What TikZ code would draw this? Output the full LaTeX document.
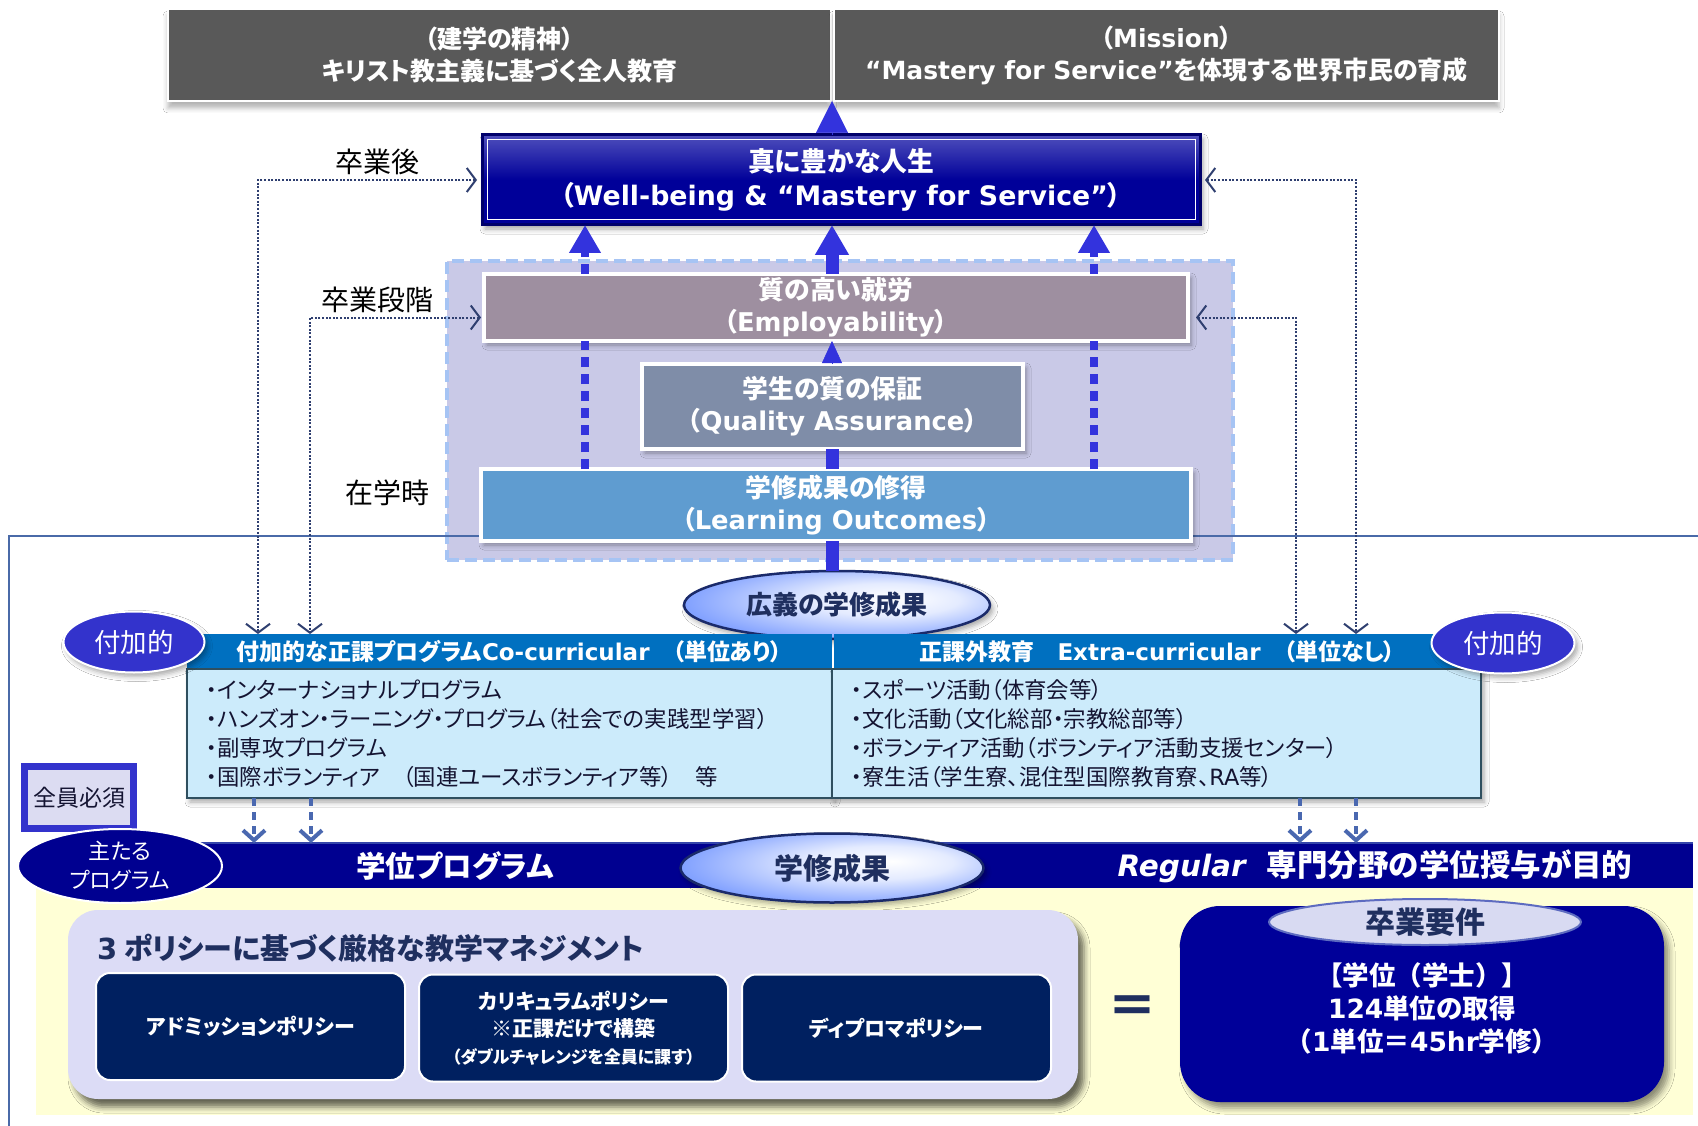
\documentclass[tikz,border=0pt]{standalone}
\usepackage{fontspec}
\setmainfont{Noto Sans CJK JP}[RawFeature=+palt]
\newfontfamily\jpfw{Noto Sans CJK JP}
\newfontfamily\lat{DejaVu Sans}
\usetikzlibrary{arrows.meta,shapes.geometric,shadows.blur,calc}
\newcommand\fsz[2]{\fontsize{#1}{#2}\selectfont}
\definecolor{cGray}{HTML}{595959}
\definecolor{cNavy}{HTML}{000099}
\definecolor{cWellMid}{HTML}{5858C0}
\definecolor{cWellTop}{HTML}{E4E4FA}
\definecolor{cArrow}{HTML}{3333DD}
\definecolor{cRegion}{HTML}{C9C9E7}
\definecolor{cRegBorder}{HTML}{A6C4F4}
\definecolor{cEmp}{HTML}{9E8FA0}
\definecolor{cQA}{HTML}{7F8DA8}
\definecolor{cLO}{HTML}{5F9CD0}
\definecolor{cDot}{HTML}{2F3F70}
\definecolor{cLine}{HTML}{4A6AA8}
\definecolor{cHdr}{HTML}{0070C0}
\definecolor{cBody}{HTML}{CCEBFB}
\definecolor{cBodyLine}{HTML}{2F4F5F}
\definecolor{cBodyText}{HTML}{141432}
\definecolor{cPurple}{HTML}{3333CC}
\definecolor{cMust}{HTML}{DCDCF2}
\definecolor{cBar}{HTML}{000090}
\definecolor{cBarLine}{HTML}{3344AA}
\definecolor{cYellow}{HTML}{FFFFD6}
\definecolor{cPanel}{HTML}{DCDCF6}
\definecolor{cPol}{HTML}{002060}
\definecolor{cTitle}{HTML}{1F2F5F}
\definecolor{cDown}{HTML}{4A68B0}
\definecolor{cReqFill}{HTML}{D8DAF2}
\definecolor{cReqLine}{HTML}{5D6BC0}
\definecolor{cEllBlue}{HTML}{3F6FFF}
\definecolor{cEllLight}{HTML}{E4EBFF}
\definecolor{cEllLine}{HTML}{1A2A6A}
\pgfdeclareverticalshading{wellshade}{100bp}{color(0bp)=(cNavy); color(50bp)=(cNavy); color(78bp)=(cWellMid); color(100bp)=(cWellTop)}
\pgfdeclareradialshading{ellshade}{\pgfpoint{10bp}{5bp}}{color(0bp)=(white); color(12bp)=(cEllLight); color(42bp)=(cEllBlue); color(60bp)=(cEllBlue)}
\begin{document}
\begin{tikzpicture}[x=1pt,y=-1pt,
  box/.style={rectangle,inner sep=0pt,outer sep=0pt,align=center},
  ell/.style={ellipse,inner sep=0pt,outer sep=0pt,align=center},
  shd/.style={blur shadow={shadow xshift=3pt,shadow yshift=-4pt,shadow opacity=35,shadow blur radius=5pt}},
  graybox/.style={box,fill=cGray,draw=white,line width=1.5pt,minimum height=92pt,text=white,font=\fsz{25}{32}\bfseries,
     blur shadow={shadow xshift=0pt,shadow yshift=-7pt,shadow opacity=30,shadow blur radius=5pt}},
  inbox/.style={box,draw=white,line width=4pt,text=white,font=\fsz{25.8}{32}\bfseries},
  label/.style={font=\fsz{28}{28},text=black,inner sep=0pt},
  shaft/.style={draw=cArrow,line width=13pt},
  tiponly/.style={draw=cArrow,line width=0.5pt},
  sdash/.style={draw=cArrow,line width=8pt,dash pattern=on 10pt off 7pt},
  dotc/.style={draw=cDot,line width=2pt,dash pattern=on 2pt off 1.6pt,
     {Straight Barb[length=9pt,width=24pt]}-{Straight Barb[length=9pt,width=24pt]}},
  hdr/.style={box,fill=cHdr,text=white,font=\fsz{23}{26}\bfseries,minimum height=35pt},
  body/.style={box,fill=cBody,draw=cBodyLine,line width=1.5pt,minimum height=129pt,inner xsep=19pt,align=left,
     font=\fsz{22.4}{29},text=cBodyText,shd},
  pol/.style={box,rounded corners=14pt,fill=cPol,draw=white,line width=2pt,text=white,font=\fsz{21}{27}\bfseries,
     minimum width=309pt,minimum height=107pt},
  downarr/.style={draw=cDown,line width=4.5pt,dash pattern=on 8pt off 6pt,-{Straight Barb[length=10pt,width=22pt,line width=4pt]}}
]
\useasboundingbox (0,0) rectangle (1698,1126);
\fill[white] (0,0) rectangle (1698,1126);

% top boxes
\node[graybox,minimum width=663pt] (gL) at (499.5,55) {（建学の精神）\\キリスト教主義に基づく全人教育};
\node[graybox,minimum width=665pt] (gR) at (1166.5,55) {（{\lat Mission}）\\{\lat “Mastery for Service”}を体現する世界市民の育成};

% well-being box
\node[box,shading=wellshade,draw=cNavy!70!black,line width=3pt,minimum width=718pt,minimum height=90pt,
      text=white,font=\fsz{26.8}{34}\bfseries,shd] (well) at (841,180)
      {真に豊かな人生\\（{\lat Well-being \& “Mastery for Service”}）};
\draw[white,line width=1pt] ($(well.south west)+(5,-5)$) rectangle ($(well.north east)+(-5,5)$);

% labels
\node[label] (lbA) at (377,162) {卒業後};
\node[label] (lbB) at (377,300) {卒業段階};
\node[label] (lbC) at (387,493) {在学時};

% region
\node[box,fill=cRegion,draw=cRegBorder,line width=4pt,dash pattern=on 12pt off 6pt,minimum width=786pt,minimum height=299pt] (reg) at (840,410.5) {};
\draw[cLine,line width=1.5pt] (9,1126) -- (9,536) -- (1698,536);

\node[inbox,fill=cEmp,minimum width=704pt,minimum height=67pt,shd] (emp) at (836,307.5) {質の高い就労\\（{\lat Employability}）};
\node[inbox,fill=cQA,minimum width=381pt,minimum height=85pt,shd] (QA) at (832.5,406.5) {学生の質の保証\\（{\lat Quality Assurance}）};
\node[inbox,fill=cLO,minimum width=710pt,minimum height=72pt,shd] (LO) at (836,505) {学修成果の修得\\（{\lat Learning Outcomes}）};

% broad learning outcomes ellipse
\node[ell,shading=ellshade,draw=cEllLine,line width=2.5pt,minimum width=306pt,minimum height=68pt,
      font=\fsz{26}{26}\bfseries,text=cTitle,shd] (wide) at (837,605) {広義の学修成果};

% central arrows
\coordinate (spine) at (832,0);
\coordinate (sL) at (585,0);
\coordinate (sR) at (1094,0);
\draw[shaft] (wide.north -| spine) -- (LO.south -| spine);
\draw[shaft] (LO.north -| spine) -- (QA.south -| spine);
\draw[tiponly,-{Triangle[length=22pt,width=20pt]}] (QA.north -| spine) -- (emp.south -| spine);
\draw[shaft,-{Triangle[length=30pt,width=32pt]}] (emp.north -| spine) -- (well.south -| spine);
\draw[tiponly,-{Triangle[length=32pt,width=32pt]}] (well.north -| spine) -- (gL.south -| spine);
\draw[sdash] (LO.north -| sL) -- (emp.south -| sL);
\draw[sdash] (LO.north -| sR) -- (emp.south -| sR);
\draw[sdash,-{Triangle[length=28pt,width=30pt]}] (emp.north -| sL) -- (well.south -| sL);
\draw[sdash,-{Triangle[length=28pt,width=30pt]}] (emp.north -| sR) -- (well.south -| sR);

% headers and bodies
\node[hdr,minimum width=645pt] (coH) at (509.5,651.5) {付加的な正課プログラム{\lat Co-curricular}　（単位あり）};
\node[hdr,minimum width=647pt] (exH) at (1157.5,651.5) {正課外教育　{\lat Extra-curricular}　（単位なし）};
\node[body,text width=607pt] (coB) at (509.5,733.5) {・インターナショナルプログラム\\・ハンズオン・ラーニング・プログラム（社会での実践型学習）\\・副専攻プログラム\\・国際ボランティア　（国連ユースボランティア等）　等};
\node[body,text width=611pt] (exB) at (1156.5,733.5) {・スポーツ活動（体育会等）\\・文化活動（文化総部・宗教総部等）\\・ボランティア活動（ボランティア活動支援センター）\\・寮生活（学生寮、混住型国際教育寮、{\lat RA}等）};

% dotted connectors
\coordinate (xA) at (258,0);
\coordinate (xB) at (310,0);
\coordinate (xC) at (1296,0);
\coordinate (xD) at (1356,0);
\draw[dotc,shorten <=5pt] (well.west) -| (coH.north -| xA);
\draw[dotc,shorten <=3pt] ([yshift=-10pt]emp.west) -| (coH.north -| xB);
\draw[dotc,shorten <=5pt] (well.east) -| (exH.north -| xD);
\draw[dotc,shorten <=8pt] ([yshift=-10pt]emp.east) -| (exH.north -| xC);

% additional ellipses
\node[ell,fill=cPurple,draw=white,line width=2pt,minimum width=141pt,minimum height=61pt,text=white,font=\fsz{26.5}{26},shd] (addL) at (134,642) {付加的};
\node[ell,fill=cPurple,draw=white,line width=2pt,minimum width=143pt,minimum height=61pt,text=white,font=\fsz{26.5}{26},shd] (addR) at (1503,643) {付加的};

% must box
\node[box,fill=cMust,draw=cPurple,line width=7pt,minimum width=109pt,minimum height=62pt,font=\fsz{23}{23},text=cBodyText] (must) at (79,797.5) {全員必須};

% degree program area
\node[box,fill=cYellow,minimum width=1657pt,minimum height=227pt] (yel) at (864.5,1001.5) {};
\node[box,fill=cBar,minimum width=1503pt,minimum height=45pt] (bar) at (941.5,865.5) {};
\draw[cBarLine,line width=2pt] (bar.north west) -- (bar.north east);
\node[text=white,font=\fsz{29.5}{29}\bfseries,inner sep=0pt] (barT1) at (455,866) {学位プログラム};
\node[text=white,font=\fsz{30.5}{30}\bfseries,inner sep=0pt] (barT2) at (1375,866) {{\lat\itshape\fsz{29.5}{30}Regular}\hspace{0.7em}専門分野の学位授与が目的};
\node[ell,fill=cBar,draw=white,line width=2pt,minimum width=204pt,minimum height=74pt,text=white,font=\fsz{22}{29}] (main) at (120,866) {主たる\\プログラム};
\node[ell,shading=ellshade,draw=cEllLine,line width=2.5pt,minimum width=303pt,minimum height=69pt,
      font=\fsz{29}{29}\bfseries,text=cTitle,shd] (lo2) at (832,868) {学修成果};

% down arrows
\coordinate (dA) at (254,0);
\coordinate (dB) at (311,0);
\coordinate (dC) at (1300,0);
\coordinate (dD) at (1356,0);
\draw[downarr] (coB.south -| dA) -- (bar.north -| dA);
\draw[downarr] (coB.south -| dB) -- (bar.north -| dB);
\draw[downarr] (exB.south -| dC) -- (bar.north -| dC);
\draw[downarr] (exB.south -| dD) -- (bar.north -| dD);

% policy panel
\node[box,fill=cPanel,rounded corners=30pt,minimum width=1010pt,minimum height=189pt,
      blur shadow={shadow xshift=6pt,shadow yshift=-8pt,shadow opacity=60,shadow blur radius=6pt}] (panel) at (573,1004.5) {};
\node[anchor=west,inner sep=0pt,font=\fsz{29}{29}\bfseries,text=cTitle] (ptitle) at (97,948) {{\lat 3} ポリシーに基づく厳格な教学マネジメント};
\node[pol] (pA) at (250.5,1026.5) {アドミッションポリシー};
\node[pol] (pC) at (573.5,1028) {カリキュラムポリシー\\※正課だけで構築\\{\fsz{17}{20}（ダブルチャレンジを全員に課す）}};
\node[pol] (pD) at (896.5,1028) {ディプロマポリシー};

\node[font=\fsz{50}{50}\bfseries,text=cTitle,inner sep=0pt] (eq) at (1132,1010) {＝};

% graduation requirements
\node[box,fill=cNavy,rounded corners=40pt,minimum width=484pt,minimum height=196pt,
      blur shadow={shadow xshift=5pt,shadow yshift=-6pt,shadow opacity=45,shadow blur radius=6pt}] (req) at (1422,1004) {};
\node[ell,fill=cReqFill,draw=cReqLine,line width=2pt,minimum width=312pt,minimum height=46pt,font=\fsz{30}{30}\bfseries,text=cTitle] (reqE) at (1425,922) {卒業要件};
\node[text=white,font=\jpfw\fsz{26.5}{33}\bfseries,align=center,inner sep=0pt] (reqT) at (1422,1008) {【学位（学士）】\\{\lat 124}単位の取得\\（{\lat 1}単位＝{\lat 45hr}学修）};
\end{tikzpicture}
\end{document}
